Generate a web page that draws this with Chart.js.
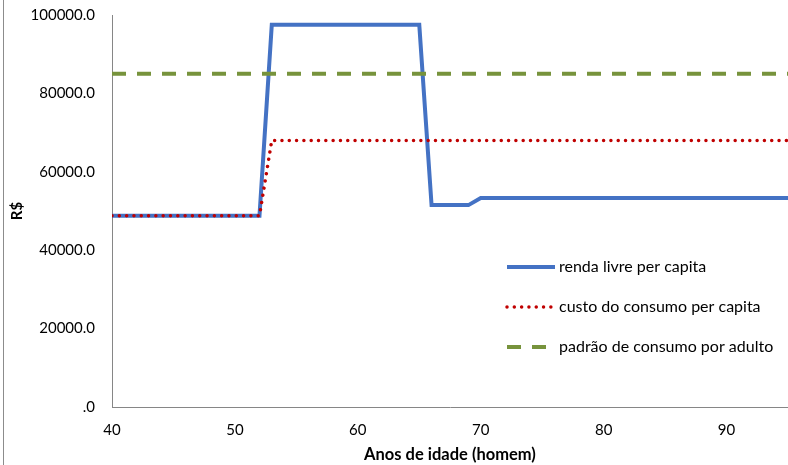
<!DOCTYPE html>
<html>
<head>
<meta charset="utf-8">
<script src="https://cdn.jsdelivr.net/npm/chart.js@4/dist/chart.umd.min.js"></script>
<style>
  html, body { margin: 0; padding: 0; background: #fff; }
  #wrap { width: 788px; height: 465px; position: relative; }
</style>
</head>
<body>
<div id="wrap"><canvas id="c" width="788" height="465"></canvas></div>
<script>
// Ages (years) where each series changes level
const rendaAges   = [40, 52, 53, 65, 66, 69, 70, 95];
const rendaValues = [48800, 48800, 97500, 97500, 51500, 51500, 53300, 53300];

const custoAges   = [40, 52, 53, 95];
const custoValues = [48800, 48800, 68000, 68000];

const padraoAges   = [40, 95];
const padraoValues = [85000, 85000];

const seriesNames = [
  'renda livre per capita',
  'custo do consumo per capita',
  'padrão de consumo por adulto'
];

const xTicks = [40, 50, 60, 70, 80, 90];
const yTicks = [0, 20000, 40000, 60000, 80000, 100000];

const toPoints = (xs, ys) => xs.map((x, i) => ({ x: x, y: ys[i] }));

const FONT = 'Lato, "Open Sans", sans-serif';

// Legend drawn inside the plot area, using each dataset's own line style
const innerLegend = {
  id: 'innerLegend',
  afterDatasetsDraw(chart) {
    const ctx = chart.ctx;
    const x0 = 507, x1 = 555, ys = [267, 307, 347];
    chart.data.datasets.forEach((ds, i) => {
      ctx.save();
      ctx.strokeStyle = ds.borderColor;
      ctx.lineWidth = ds.borderWidth;
      ctx.lineCap = ds.borderCapStyle || 'butt';
      ctx.setLineDash(ds.borderDash || []);
      ctx.beginPath();
      ctx.moveTo(x0, ys[i]);
      ctx.lineTo(x1, ys[i]);
      ctx.stroke();
      ctx.setLineDash([]);
      ctx.fillStyle = '#000';
      ctx.font = '16px ' + FONT;
      ctx.textBaseline = 'middle';
      ctx.textAlign = 'left';
      ctx.fillText(ds.label, x1 + 4, ys[i]);
      ctx.restore();
    });
  }
};

// Thin frame line along the left side of the figure
const frameLine = {
  id: 'frameLine',
  beforeDraw(chart) {
    const ctx = chart.ctx;
    ctx.save();
    ctx.strokeStyle = '#8c8c8c';
    ctx.lineWidth = 1;
    ctx.beginPath();
    ctx.moveTo(3.5, 0);
    ctx.lineTo(3.5, chart.height);
    ctx.stroke();
    ctx.restore();
  }
};

new Chart(document.getElementById('c'), {
  type: 'line',
  data: {
    datasets: [
      {
        label: seriesNames[0],
        data: toPoints(rendaAges, rendaValues),
        borderColor: '#4472C4',
        borderWidth: 4,
        pointRadius: 0,
        tension: 0,
        borderJoinStyle: 'miter',
        order: 3
      },
      {
        label: seriesNames[1],
        data: toPoints(custoAges, custoValues),
        borderColor: '#C00000',
        borderWidth: 3.5,
        borderDash: [0.01, 7.3],
        borderCapStyle: 'round',
        pointRadius: 0,
        tension: 0,
        order: 1
      },
      {
        label: seriesNames[2],
        data: toPoints(padraoAges, padraoValues),
        borderColor: '#77933C',
        borderWidth: 4,
        borderDash: [14, 11],
        pointRadius: 0,
        tension: 0,
        order: 2
      }
    ]
  },
  options: {
    responsive: false,
    animation: false,
    layout: { padding: { left: 8, right: 0, top: 15, bottom: 0 } },
    plugins: {
      legend: { display: false },
      tooltip: { enabled: false }
    },
    scales: {
      x: {
        type: 'linear',
        min: 40,
        max: 95,
        afterBuildTicks(scale) {
          scale.ticks = xTicks.map(v => ({ value: v }));
        },
        afterFit(scale) { scale.height = 58; },
        grid: { display: false, drawTicks: false },
        border: { display: true, color: '#868686', width: 1 },
        ticks: {
          color: '#000',
          font: { family: FONT, size: 15 },
          padding: 14,
          maxRotation: 0,
          callback: v => String(v)
        },
        title: {
          display: true,
          text: 'Anos de idade (homem)',
          color: '#000',
          font: { family: FONT, size: 16.5, weight: 'bold' },
          padding: { top: 2, bottom: 0 }
        }
      },
      y: {
        type: 'linear',
        min: 0,
        max: 100000,
        afterBuildTicks(scale) {
          scale.ticks = yTicks.map(v => ({ value: v }));
        },
        afterFit(scale) {
          scale.width = 104;
          scale.paddingTop = 0;
          scale.paddingBottom = 0;
        },
        grid: { display: false, drawTicks: false },
        border: { display: true, color: '#868686', width: 1 },
        ticks: {
          color: '#000',
          font: { family: FONT, size: 15 },
          padding: 17,
          callback: v => (v === 0 ? '.0' : v.toFixed(1))
        },
        title: {
          display: true,
          text: 'R$',
          color: '#000',
          font: { family: FONT, size: 15, weight: 'bold' },
          padding: { top: 0, bottom: 0 }
        }
      }
    }
  },
  plugins: [innerLegend, frameLine]
});
</script>
</body>
</html>
